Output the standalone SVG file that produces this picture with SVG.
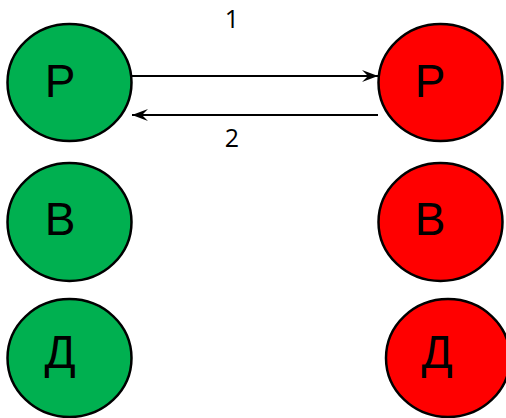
<svg xmlns="http://www.w3.org/2000/svg" width="506" height="418" viewBox="0 0 506 418">
<style>
.g{fill:#00B050;stroke:#000;stroke-width:2.5}
.r{fill:#FF0000;stroke:#000;stroke-width:2.5}
.t{font-family:"Liberation Sans",Arial,sans-serif;font-size:46px;fill:#000;text-anchor:middle}
.n{font-family:"Open Sans","Liberation Sans",sans-serif;font-size:25px;fill:#000;text-anchor:middle}
.c{stroke:#000;stroke-width:2;fill:none;marker-end:url(#ah)}
</style>
<defs>
<marker id="ah" markerUnits="userSpaceOnUse" markerWidth="18" markerHeight="14" refX="16" refY="6.5" orient="auto">
<path d="M0,0.5 L16,6.5 L0,12.5 L6,6.5 z" fill="#000"/>
</marker>
</defs>
<g id="connectors">
<line class="c" x1="132" y1="76" x2="378" y2="76"/>
<line class="c" x1="378" y1="115" x2="132" y2="115"/>
<text class="n" x="232" y="28">1</text>
<text class="n" x="232" y="147">2</text>
</g>
<g id="gP"><ellipse class="g" cx="69.5" cy="82.5" rx="62" ry="58.5"/><text class="t" x="60" y="97">Р</text></g>
<g id="gB"><ellipse class="g" cx="69.5" cy="222" rx="62" ry="59"/><text class="t" x="60" y="235">В</text></g>
<g id="gD"><ellipse class="g" cx="69.5" cy="358" rx="62" ry="59"/><text class="t" x="60" y="368">Д</text></g>
<g id="rP"><ellipse class="r" cx="440.5" cy="82.5" rx="62" ry="58.5"/><text class="t" x="430" y="97">Р</text></g>
<g id="rB"><ellipse class="r" cx="440.5" cy="222" rx="62" ry="59"/><text class="t" x="430" y="235">В</text></g>
<g id="rD"><ellipse class="r" cx="448" cy="358" rx="62" ry="59"/><text class="t" x="437" y="368">Д</text></g>
</svg>
